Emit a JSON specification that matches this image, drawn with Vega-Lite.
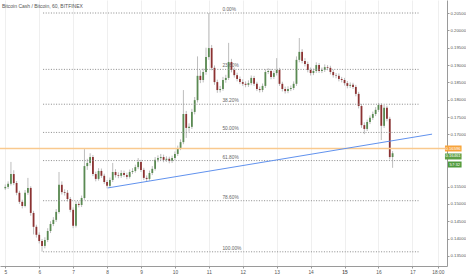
{
  "$schema": "https://vega.github.io/schema/vega-lite/v6.json",
  "width": 447,
  "height": 266,
  "autosize": {"type": "none"},
  "padding": {"left": 0, "top": 0, "right": 19, "bottom": 9},
  "background": "#ffffff",
  "view": {"stroke": null},
  "config": {"font": "Liberation Sans"},
  "resolve": {"axis": {"x": "independent", "y": "independent"}},
  "title": {"text": "Bitcoin Cash / Bitcoin, 60, BITFINEX", "anchor": "start", "frame": "group", "orient": "top", "offset": -9, "dx": 2, "fontSize": 5, "fontWeight": "normal", "color": "#555555"},
  "datasets": {
    "candles": [
      {"t":5.0,"o":0.1545,"h":0.1556,"l":0.1540,"c":0.1549},
      {"t":5.0833,"o":0.1549,"h":0.1565,"l":0.1543,"c":0.1558},
      {"t":5.1667,"o":0.1558,"h":0.1621,"l":0.1553,"c":0.1586},
      {"t":5.25,"o":0.1586,"h":0.1597,"l":0.1554,"c":0.1560},
      {"t":5.3333,"o":0.1560,"h":0.1566,"l":0.1525,"c":0.1532},
      {"t":5.4167,"o":0.1532,"h":0.1538,"l":0.1500,"c":0.1506},
      {"t":5.5,"o":0.1506,"h":0.1512,"l":0.1487,"c":0.1494},
      {"t":5.5833,"o":0.1494,"h":0.1540,"l":0.1490,"c":0.1532},
      {"t":5.6667,"o":0.1532,"h":0.1575,"l":0.1526,"c":0.1546},
      {"t":5.75,"o":0.1546,"h":0.1551,"l":0.1466,"c":0.1474},
      {"t":5.8333,"o":0.1474,"h":0.1480,"l":0.1412,"c":0.1434},
      {"t":5.9167,"o":0.1434,"h":0.1440,"l":0.1403,"c":0.1411},
      {"t":6.0,"o":0.1411,"h":0.1418,"l":0.1386,"c":0.1393},
      {"t":6.0833,"o":0.1393,"h":0.1399,"l":0.1362,"c":0.1379},
      {"t":6.1667,"o":0.1379,"h":0.1404,"l":0.1372,"c":0.1396},
      {"t":6.25,"o":0.1396,"h":0.1430,"l":0.1390,"c":0.1422},
      {"t":6.3333,"o":0.1422,"h":0.1450,"l":0.1416,"c":0.1442},
      {"t":6.4167,"o":0.1442,"h":0.1462,"l":0.1436,"c":0.1454},
      {"t":6.5,"o":0.1454,"h":0.1485,"l":0.1448,"c":0.1477},
      {"t":6.5833,"o":0.1477,"h":0.1592,"l":0.1472,"c":0.1555},
      {"t":6.6667,"o":0.1555,"h":0.1565,"l":0.1527,"c":0.1534},
      {"t":6.75,"o":0.1534,"h":0.1542,"l":0.1524,"c":0.1532},
      {"t":6.8333,"o":0.1532,"h":0.1540,"l":0.1507,"c":0.1514},
      {"t":6.9167,"o":0.1514,"h":0.1520,"l":0.1476,"c":0.1483},
      {"t":7.0,"o":0.1483,"h":0.1490,"l":0.1430,"c":0.1437},
      {"t":7.0833,"o":0.1437,"h":0.1508,"l":0.1432,"c":0.1500},
      {"t":7.1667,"o":0.1500,"h":0.1507,"l":0.1490,"c":0.1497},
      {"t":7.25,"o":0.1497,"h":0.1524,"l":0.1491,"c":0.1517},
      {"t":7.3333,"o":0.1517,"h":0.1658,"l":0.1512,"c":0.1609},
      {"t":7.4167,"o":0.1609,"h":0.1630,"l":0.1598,"c":0.1618},
      {"t":7.5,"o":0.1618,"h":0.1646,"l":0.1610,"c":0.1635},
      {"t":7.5833,"o":0.1635,"h":0.1641,"l":0.1580,"c":0.1586},
      {"t":7.6667,"o":0.1586,"h":0.1593,"l":0.1565,"c":0.1572},
      {"t":7.75,"o":0.1572,"h":0.1603,"l":0.1567,"c":0.1595},
      {"t":7.8333,"o":0.1595,"h":0.1602,"l":0.1575,"c":0.1581},
      {"t":7.9167,"o":0.1581,"h":0.1587,"l":0.1557,"c":0.1563},
      {"t":8.0,"o":0.1563,"h":0.1569,"l":0.1545,"c":0.1552},
      {"t":8.0833,"o":0.1552,"h":0.1576,"l":0.1547,"c":0.1569},
      {"t":8.1667,"o":0.1569,"h":0.1618,"l":0.1563,"c":0.1592},
      {"t":8.25,"o":0.1592,"h":0.1600,"l":0.1576,"c":0.1583},
      {"t":8.3333,"o":0.1583,"h":0.1591,"l":0.1574,"c":0.1581},
      {"t":8.4167,"o":0.1581,"h":0.1597,"l":0.1575,"c":0.1589},
      {"t":8.5,"o":0.1589,"h":0.1596,"l":0.1577,"c":0.1583},
      {"t":8.5833,"o":0.1583,"h":0.1590,"l":0.1571,"c":0.1578},
      {"t":8.6667,"o":0.1578,"h":0.1599,"l":0.1573,"c":0.1592},
      {"t":8.75,"o":0.1592,"h":0.1603,"l":0.1586,"c":0.1595},
      {"t":8.8333,"o":0.1595,"h":0.1613,"l":0.1590,"c":0.1606},
      {"t":8.9167,"o":0.1606,"h":0.1632,"l":0.1600,"c":0.1621},
      {"t":9.0,"o":0.1621,"h":0.1627,"l":0.1592,"c":0.1598},
      {"t":9.0833,"o":0.1598,"h":0.1604,"l":0.1569,"c":0.1575},
      {"t":9.1667,"o":0.1575,"h":0.1582,"l":0.1566,"c":0.1572},
      {"t":9.25,"o":0.1572,"h":0.1596,"l":0.1567,"c":0.1589},
      {"t":9.3333,"o":0.1589,"h":0.1609,"l":0.1583,"c":0.1601},
      {"t":9.4167,"o":0.1601,"h":0.1635,"l":0.1596,"c":0.1627},
      {"t":9.5,"o":0.1627,"h":0.1640,"l":0.1620,"c":0.1632},
      {"t":9.5833,"o":0.1632,"h":0.1644,"l":0.1626,"c":0.1635},
      {"t":9.6667,"o":0.1635,"h":0.1642,"l":0.1620,"c":0.1627},
      {"t":9.75,"o":0.1627,"h":0.1637,"l":0.1621,"c":0.1630},
      {"t":9.8333,"o":0.1630,"h":0.1636,"l":0.1617,"c":0.1624},
      {"t":9.9167,"o":0.1624,"h":0.1639,"l":0.1618,"c":0.1632},
      {"t":10.0,"o":0.1632,"h":0.1651,"l":0.1626,"c":0.1644},
      {"t":10.0833,"o":0.1644,"h":0.1668,"l":0.1638,"c":0.1661},
      {"t":10.1667,"o":0.1661,"h":0.1686,"l":0.1655,"c":0.1678},
      {"t":10.25,"o":0.1678,"h":0.1828,"l":0.1672,"c":0.1759},
      {"t":10.3333,"o":0.1759,"h":0.1768,"l":0.1690,"c":0.1719},
      {"t":10.4167,"o":0.1719,"h":0.1732,"l":0.1708,"c":0.1722},
      {"t":10.5,"o":0.1722,"h":0.1774,"l":0.1716,"c":0.1765},
      {"t":10.5833,"o":0.1765,"h":0.1808,"l":0.1758,"c":0.1799},
      {"t":10.6667,"o":0.1799,"h":0.1925,"l":0.1792,"c":0.1869},
      {"t":10.75,"o":0.1869,"h":0.1885,"l":0.1848,"c":0.1857},
      {"t":10.8333,"o":0.1857,"h":0.1890,"l":0.1850,"c":0.1880},
      {"t":10.9167,"o":0.1880,"h":0.1950,"l":0.1872,"c":0.1923},
      {"t":11.0,"o":0.1923,"h":0.2050,"l":0.1915,"c":0.1949},
      {"t":11.0833,"o":0.1949,"h":0.1958,"l":0.1885,"c":0.1892},
      {"t":11.1667,"o":0.1892,"h":0.1899,"l":0.1843,"c":0.1851},
      {"t":11.25,"o":0.1851,"h":0.1858,"l":0.1820,"c":0.1828},
      {"t":11.3333,"o":0.1828,"h":0.1840,"l":0.1821,"c":0.1831},
      {"t":11.4167,"o":0.1831,"h":0.1866,"l":0.1826,"c":0.1857},
      {"t":11.5,"o":0.1857,"h":0.1872,"l":0.1849,"c":0.1863},
      {"t":11.5833,"o":0.1863,"h":0.1964,"l":0.1857,"c":0.1909},
      {"t":11.6667,"o":0.1909,"h":0.1918,"l":0.1879,"c":0.1886},
      {"t":11.75,"o":0.1886,"h":0.1893,"l":0.1864,"c":0.1871},
      {"t":11.8333,"o":0.1871,"h":0.1878,"l":0.1853,"c":0.1860},
      {"t":11.9167,"o":0.1860,"h":0.1867,"l":0.1845,"c":0.1851},
      {"t":12.0,"o":0.1851,"h":0.1859,"l":0.1840,"c":0.1846},
      {"t":12.0833,"o":0.1846,"h":0.1853,"l":0.1836,"c":0.1843},
      {"t":12.1667,"o":0.1843,"h":0.1856,"l":0.1837,"c":0.1848},
      {"t":12.25,"o":0.1848,"h":0.1870,"l":0.1842,"c":0.1863},
      {"t":12.3333,"o":0.1863,"h":0.1869,"l":0.1840,"c":0.1846},
      {"t":12.4167,"o":0.1846,"h":0.1852,"l":0.1825,"c":0.1831},
      {"t":12.5,"o":0.1831,"h":0.1838,"l":0.1821,"c":0.1828},
      {"t":12.5833,"o":0.1828,"h":0.1847,"l":0.1822,"c":0.1840},
      {"t":12.6667,"o":0.1840,"h":0.1888,"l":0.1834,"c":0.1880},
      {"t":12.75,"o":0.1880,"h":0.1891,"l":0.1874,"c":0.1883},
      {"t":12.8333,"o":0.1883,"h":0.1889,"l":0.1859,"c":0.1866},
      {"t":12.9167,"o":0.1866,"h":0.1884,"l":0.1860,"c":0.1877},
      {"t":13.0,"o":0.1877,"h":0.1920,"l":0.1870,"c":0.1886},
      {"t":13.0833,"o":0.1886,"h":0.1892,"l":0.1840,"c":0.1846},
      {"t":13.1667,"o":0.1846,"h":0.1852,"l":0.1824,"c":0.1831},
      {"t":13.25,"o":0.1831,"h":0.1838,"l":0.1818,"c":0.1825},
      {"t":13.3333,"o":0.1825,"h":0.1839,"l":0.1819,"c":0.1831},
      {"t":13.4167,"o":0.1831,"h":0.1841,"l":0.1825,"c":0.1834},
      {"t":13.5,"o":0.1834,"h":0.1853,"l":0.1828,"c":0.1846},
      {"t":13.5833,"o":0.1846,"h":0.1925,"l":0.1840,"c":0.1915},
      {"t":13.6667,"o":0.1915,"h":0.1978,"l":0.1908,"c":0.1938},
      {"t":13.75,"o":0.1938,"h":0.1946,"l":0.1905,"c":0.1912},
      {"t":13.8333,"o":0.1912,"h":0.1920,"l":0.1896,"c":0.1903},
      {"t":13.9167,"o":0.1903,"h":0.1910,"l":0.1879,"c":0.1886},
      {"t":14.0,"o":0.1886,"h":0.1893,"l":0.1870,"c":0.1877},
      {"t":14.0833,"o":0.1877,"h":0.1890,"l":0.1871,"c":0.1883},
      {"t":14.1667,"o":0.1883,"h":0.1908,"l":0.1877,"c":0.1900},
      {"t":14.25,"o":0.1900,"h":0.1906,"l":0.1877,"c":0.1883},
      {"t":14.3333,"o":0.1883,"h":0.1893,"l":0.1877,"c":0.1886},
      {"t":14.4167,"o":0.1886,"h":0.1902,"l":0.1880,"c":0.1894},
      {"t":14.5,"o":0.1894,"h":0.1900,"l":0.1885,"c":0.1892},
      {"t":14.5833,"o":0.1892,"h":0.1898,"l":0.1873,"c":0.1880},
      {"t":14.6667,"o":0.1880,"h":0.1887,"l":0.1864,"c":0.1871},
      {"t":14.75,"o":0.1871,"h":0.1877,"l":0.1862,"c":0.1869},
      {"t":14.8333,"o":0.1869,"h":0.1876,"l":0.1853,"c":0.1860},
      {"t":14.9167,"o":0.1860,"h":0.1866,"l":0.1850,"c":0.1857},
      {"t":15.0,"o":0.1857,"h":0.1863,"l":0.1841,"c":0.1848},
      {"t":15.0833,"o":0.1848,"h":0.1854,"l":0.1833,"c":0.1840},
      {"t":15.1667,"o":0.1840,"h":0.1850,"l":0.1834,"c":0.1843},
      {"t":15.25,"o":0.1843,"h":0.1849,"l":0.1831,"c":0.1837},
      {"t":15.3333,"o":0.1837,"h":0.1843,"l":0.1810,"c":0.1817},
      {"t":15.4167,"o":0.1817,"h":0.1823,"l":0.1775,"c":0.1782},
      {"t":15.5,"o":0.1782,"h":0.1788,"l":0.1719,"c":0.1727},
      {"t":15.5833,"o":0.1727,"h":0.1735,"l":0.1701,"c":0.1716},
      {"t":15.6667,"o":0.1716,"h":0.1743,"l":0.1710,"c":0.1736},
      {"t":15.75,"o":0.1736,"h":0.1755,"l":0.1730,"c":0.1748},
      {"t":15.8333,"o":0.1748,"h":0.1766,"l":0.1742,"c":0.1759},
      {"t":15.9167,"o":0.1759,"h":0.1779,"l":0.1753,"c":0.1771},
      {"t":16.0,"o":0.1771,"h":0.1791,"l":0.1765,"c":0.1785},
      {"t":16.0833,"o":0.1785,"h":0.1790,"l":0.1684,"c":0.1725},
      {"t":16.1667,"o":0.1725,"h":0.1785,"l":0.1719,"c":0.1777},
      {"t":16.25,"o":0.1777,"h":0.1783,"l":0.1738,"c":0.1745},
      {"t":16.3333,"o":0.1745,"h":0.1751,"l":0.1628,"c":0.1635},
      {"t":16.4167,"o":0.1635,"h":0.1652,"l":0.1604,"c":0.1646}
    ],
    "fib": [
      {"level":"0.00%","p":0.2050},
      {"level":"23.60%","p":0.18876},
      {"level":"38.20%","p":0.17872},
      {"level":"50.00%","p":0.1706},
      {"level":"61.80%","p":0.16248},
      {"level":"78.60%","p":0.15092},
      {"level":"100.00%","p":0.1362}
    ],
    "trend": [
      {"t":8.02,"p":0.1546},
      {"t":17.58,"p":0.1701}
    ],
    "one": [{}]
  },
  "layer": [
    {
      "data": {"name": "candles"},
      "mark": {"type": "rule", "color": "#bdbdbd", "strokeWidth": 1},
      "encoding": {
        "x": {"field": "t", "type": "quantitative", "scale": {"domain": [4.9914, 17.873], "nice": false, "zero": false},
          "axis": {"orient": "bottom", "values": [5,6,7,8,9,10,11,12,13,14,15,16,17,17.75], "labelExpr": "datum.value == 17.75 ? '18:00' : datum.value", "labelOverlap": false, "title": null, "grid": true, "gridColor": "#efefef", "domainColor": "#9a9a9a", "tickColor": "#9a9a9a", "tickSize": 2, "labelPadding": 1, "labelFontSize": 4.8, "labelColor": "#555555", "labelFontWeight": {"condition": {"test": "datum.value == 15", "value": "bold"}, "value": "normal"}}},
        "y": {"field": "l", "type": "quantitative", "scale": {"domain": [0.13211, 0.20875], "nice": false, "zero": false},
          "axis": {"orient": "right", "values": [0.135,0.14,0.145,0.15,0.155,0.17,0.175,0.18,0.185,0.19,0.195,0.2,0.205], "format": ".5f", "labelOverlap": false, "title": null, "grid": false, "domainColor": "#9a9a9a", "tickColor": "#9a9a9a", "tickSize": 2, "labelPadding": 1, "labelFontSize": 4.3, "labelColor": "#555555"}},
        "y2": {"field": "h"}
      }
    },
    {
      "data": {"name": "candles"},
      "mark": {"type": "bar", "width": 1.8},
      "encoding": {
        "x": {"field": "t", "type": "quantitative", "axis": null},
        "y": {"field": "o", "type": "quantitative", "axis": null},
        "y2": {"field": "c"},
        "color": {"condition": {"test": "datum.c >= datum.o", "value": "#5a8a52"}, "value": "#8c3232"}
      }
    },
    {
      "data": {"name": "fib"},
      "mark": {"type": "rule", "color": "#8a8a8a", "strokeWidth": 1, "strokeDash": [1, 1.6]},
      "encoding": {
        "x": {"datum": 6.115, "type": "quantitative", "axis": null},
        "x2": {"datum": 17.18},
        "y": {"field": "p", "type": "quantitative", "axis": null}
      }
    },
    {
      "data": {"name": "fib"},
      "mark": {"type": "text", "align": "left", "baseline": "bottom", "dy": -1, "fontSize": 4.8, "color": "#666666"},
      "encoding": {
        "x": {"datum": 11.4, "type": "quantitative", "axis": null},
        "y": {"field": "p", "type": "quantitative", "axis": null},
        "text": {"field": "level"}
      }
    },
    {
      "data": {"name": "one"},
      "mark": {"type": "rule", "color": "#f9c98e", "strokeWidth": 1.6},
      "encoding": {"y": {"datum": 0.16596, "type": "quantitative", "axis": null}}
    },
    {
      "data": {"name": "trend"},
      "mark": {"type": "line", "color": "#6192ee", "strokeWidth": 1},
      "encoding": {
        "x": {"field": "t", "type": "quantitative", "axis": null},
        "y": {"field": "p", "type": "quantitative", "axis": null}
      }
    },
    {
      "data": {"name": "one"},
      "mark": {"type": "rect", "color": "#f7a33c", "clip": false},
      "encoding": {
        "x": {"datum": 17.96, "type": "quantitative", "axis": null}, "x2": {"datum": 18.45},
        "y": {"datum": 0.16683, "type": "quantitative", "axis": null}, "y2": {"datum": 0.16510}
      }
    },
    {
      "data": {"name": "one"},
      "mark": {"type": "rect", "color": "#5fa045", "clip": false},
      "encoding": {
        "x": {"datum": 17.96, "type": "quantitative", "axis": null}, "x2": {"datum": 18.45},
        "y": {"datum": 0.16453, "type": "quantitative", "axis": null}, "y2": {"datum": 0.16280}
      }
    },
    {
      "data": {"name": "one"},
      "mark": {"type": "rect", "color": "#4f9a3c", "clip": false},
      "encoding": {
        "x": {"datum": 18.05, "type": "quantitative", "axis": null}, "x2": {"datum": 18.45},
        "y": {"datum": 0.16222, "type": "quantitative", "axis": null}, "y2": {"datum": 0.16049}
      }
    },
    {
      "data": {"name": "one"},
      "mark": {"type": "text", "color": "#ffffff", "fontSize": 4.2, "align": "center", "baseline": "middle", "clip": false, "text": "0.16596"},
      "encoding": {"x": {"datum": 18.2, "type": "quantitative", "axis": null}, "y": {"datum": 0.16596, "type": "quantitative", "axis": null}}
    },
    {
      "data": {"name": "one"},
      "mark": {"type": "text", "color": "#ffffff", "fontSize": 4.2, "align": "center", "baseline": "middle", "clip": false, "text": "0.16461"},
      "encoding": {"x": {"datum": 18.2, "type": "quantitative", "axis": null}, "y": {"datum": 0.16366, "type": "quantitative", "axis": null}}
    },
    {
      "data": {"name": "one"},
      "mark": {"type": "text", "color": "#ffffff", "fontSize": 4.2, "align": "center", "baseline": "middle", "clip": false, "text": "57:32"},
      "encoding": {"x": {"datum": 18.25, "type": "quantitative", "axis": null}, "y": {"datum": 0.16135, "type": "quantitative", "axis": null}}
    }
  ]
}
